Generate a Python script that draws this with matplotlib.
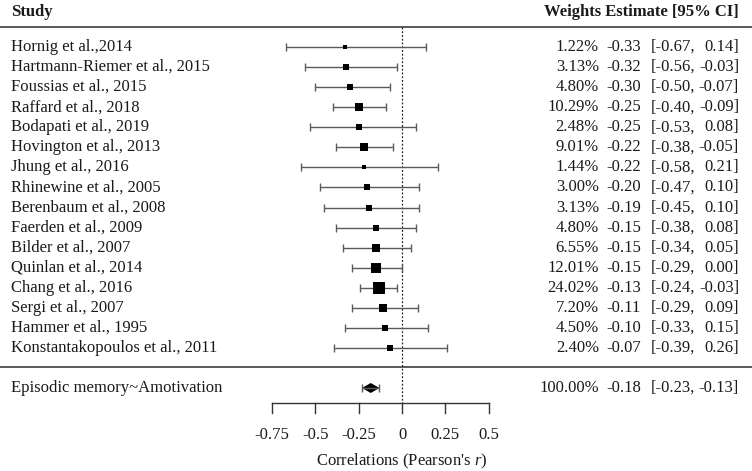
import numpy as np
import matplotlib.pyplot as plt

plt.rcParams['font.family'] = ['Liberation Serif', 'DejaVu Serif']
plt.rcParams['mathtext.fontset'] = 'custom'
plt.rcParams['mathtext.rm'] = 'Liberation Serif'
plt.rcParams['mathtext.it'] = 'Liberation Serif:italic'

# Data
studies = ['Hornig et al.,2014', 'Hartmann-Riemer et al., 2015', 'Foussias et al., 2015',
           'Raffard et al., 2018', 'Bodapati et al., 2019', 'Hovington et al., 2013',
           'Jhung et al., 2016', 'Rhinewine et al., 2005', 'Berenbaum et al., 2008',
           'Faerden et al., 2009', 'Bilder et al., 2007', 'Quinlan et al., 2014',
           'Chang et al., 2016', 'Sergi et al., 2007', 'Hammer et al., 1995',
           'Konstantakopoulos et al., 2011']
weights = [1.22, 3.13, 4.80, 10.29, 2.48, 9.01, 1.44, 3.00, 3.13, 4.80, 6.55, 12.01,
           24.02, 7.20, 4.50, 2.40]
estimate = [-0.33, -0.32, -0.30, -0.25, -0.25, -0.22, -0.22, -0.20, -0.19, -0.15, -0.15,
            -0.15, -0.13, -0.11, -0.10, -0.07]
ci_low = [-0.67, -0.56, -0.50, -0.40, -0.53, -0.38, -0.58, -0.47, -0.45, -0.38, -0.34,
          -0.29, -0.24, -0.29, -0.33, -0.39]
ci_high = [0.14, -0.03, -0.07, -0.09, 0.08, -0.05, 0.21, 0.10, 0.10, 0.08, 0.05,
           0.00, -0.03, 0.09, 0.15, 0.26]

summary_label = 'Episodic memory~Amotivation'
summary_weight = 100.00
summary_est = -0.18
summary_low = -0.23
summary_high = -0.13

ticks = [-0.75, -0.5, -0.25, 0, 0.25, 0.5]
tick_labels = ['-0.75', '-0.5', '-0.25', '0', '0.25', '0.5']

# Layout (pixels of a 752x471 figure)
W, H = 752, 471
zero_px, unit_px = 402, 173.6
row0, row_step = 47, 20.07
y_sum = 388
y_axis = 403
fs = 12
text_col = '#1a1a1a'
line_col = '#5a5a5a'

fig = plt.figure(figsize=(W / 100, H / 100), dpi=100)
ax = fig.add_axes([0, 0, 1, 1])
ax.set_xlim(-zero_px / unit_px, (W - zero_px) / unit_px)
ax.set_ylim(H, 0)
ax.axis('off')
tr = ax.get_yaxis_transform()  # x in axes fraction, y in data (pixels)

def fx(px):
    return px / W

def row_text(y, label, w, est, lo, hi):
    ax.text(fx(11), y, label, transform=tr, fontsize=fs, ha='left', va='center', color=text_col)
    ax.text(fx(599), y, f'{w:.2f}%', transform=tr, fontsize=fs, ha='right', va='center', color=text_col)
    ax.text(fx(641), y, f'{est:.2f}', transform=tr, fontsize=fs, ha='right', va='center', color=text_col)
    ax.text(fx(695), y, f'[{lo:.2f},', transform=tr, fontsize=fs, ha='right', va='center', color=text_col)
    ax.text(fx(739), y, f'{hi:.2f}]', transform=tr, fontsize=fs, ha='right', va='center', color=text_col)

# header
ax.text(fx(11), 12, 'Study', transform=tr, fontsize=fs, fontweight='bold',
        ha='left', va='center', color=text_col)
ax.text(fx(739), 12, 'Weights Estimate [95% CI]', transform=tr, fontsize=fs,
        fontweight='bold', ha='right', va='center', color=text_col)
ax.axhline(27, color=line_col, lw=1.4)
ax.axhline(367, color=line_col, lw=1.4)

# zero reference line
ax.plot([0, 0], [27, y_axis], color='#222222', lw=0.9, ls=(0, (1.5, 1.5)))

max_w = max(weights)
for i, name in enumerate(studies):
    y = row0 + i * row_step
    ax.errorbar(estimate[i], y,
                xerr=[[estimate[i] - ci_low[i]], [ci_high[i] - estimate[i]]],
                fmt='none', ecolor=line_col, elinewidth=1.0, capsize=3, capthick=1.0)
    side = 2.5 + 9.5 * np.sqrt(weights[i] / max_w)
    ax.plot(estimate[i], y, marker='s', ms=side * 0.72, color='black', mew=0)
    row_text(y, name, weights[i], estimate[i], ci_low[i], ci_high[i])

# summary diamond
ax.errorbar(summary_est, y_sum,
            xerr=[[summary_est - summary_low], [summary_high - summary_est]],
            fmt='none', ecolor=line_col, elinewidth=1.0, capsize=3, capthick=1.0)
ax.fill([summary_low, summary_est, summary_high, summary_est],
        [y_sum, y_sum - 5, y_sum, y_sum + 5], color='black', lw=0)
row_text(y_sum, summary_label, summary_weight, summary_est, summary_low, summary_high)

# x axis drawn by hand, forest-plot style
ax.plot([ticks[0], ticks[-1]], [y_axis, y_axis], color='#333333', lw=1.0)
for t, lab in zip(ticks, tick_labels):
    ax.plot([t, t], [y_axis, y_axis + 10], color='#333333', lw=1.0)
    ax.text(t, 435, lab, fontsize=fs, ha='center', va='center', color=text_col)
ax.text(0, 461, "Correlations (Pearson's $r$)", fontsize=fs, ha='center',
        va='center', color=text_col)

fig.savefig('out.png', dpi=100, facecolor='white')
